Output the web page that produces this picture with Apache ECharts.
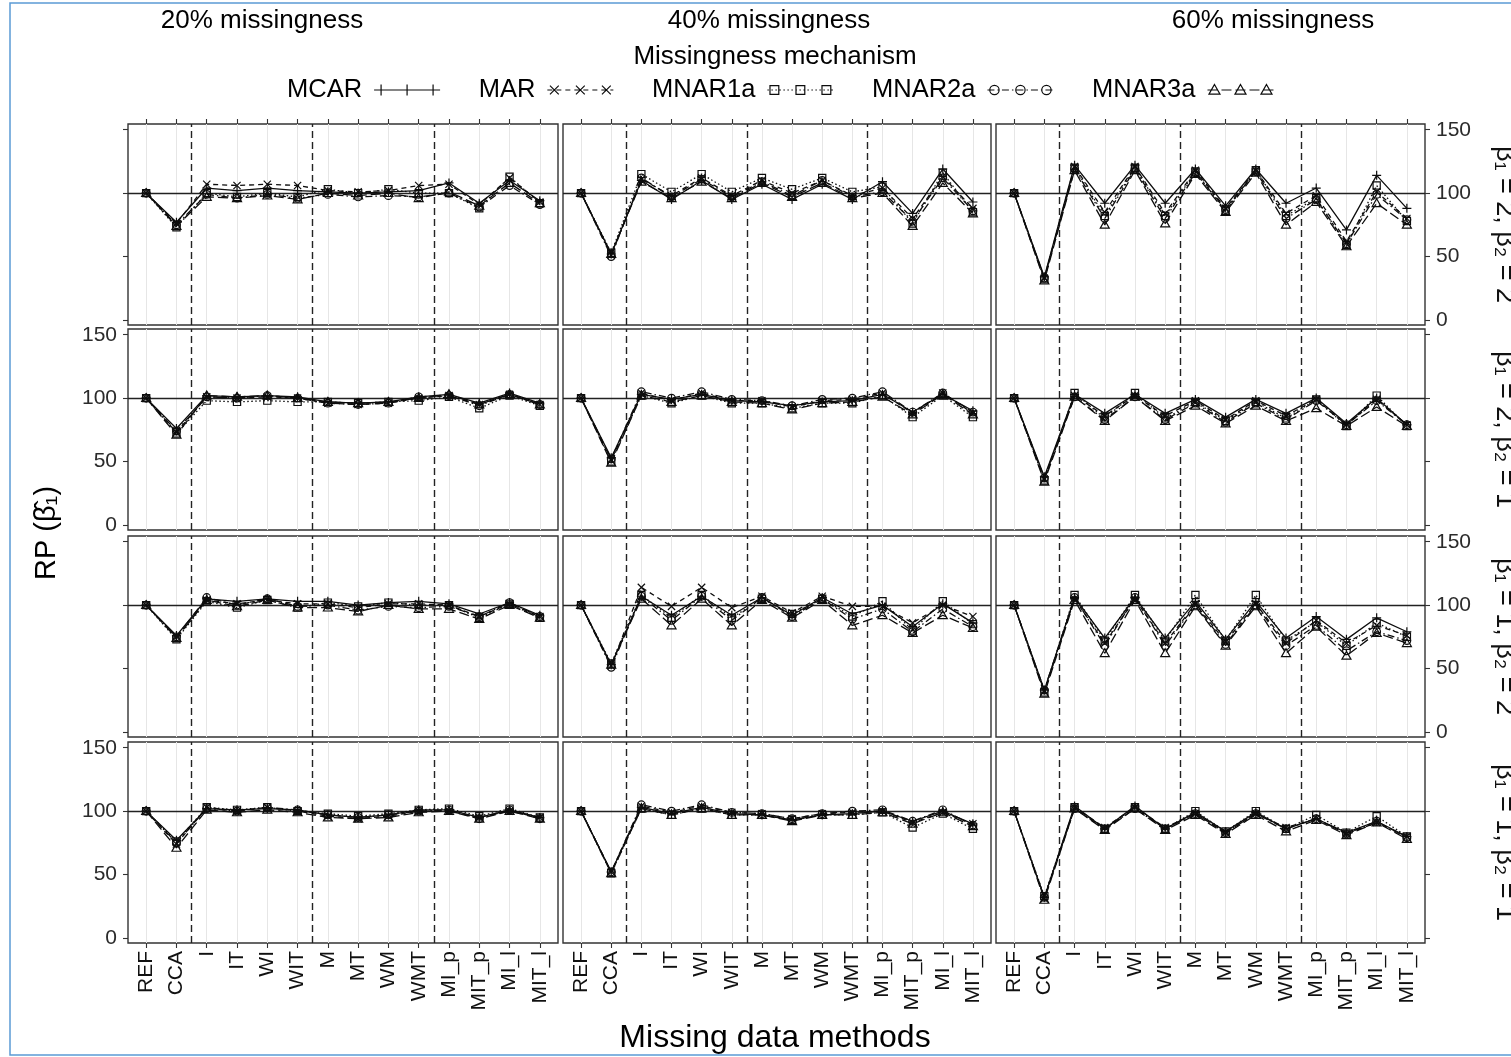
<!DOCTYPE html>
<html><head><meta charset="utf-8">
<script src="https://cdn.jsdelivr.net/npm/echarts@6/dist/echarts.min.js"></script>
<style>html,body{margin:0;padding:0;background:#fff;}#c{width:1511px;height:1057px;}</style>
</head><body><div id="c"></div>
<script>
// ---------------- DATA ----------------
const methods = ['REF','CCA','I','IT','WI','WIT','M','MT','WM','WMT','MI_p','MIT_p','MI_l','MIT_l'];
const mechanisms = ['MCAR','MAR','MNAR1a','MNAR2a','MNAR3a'];
const missingness = ['20% missingness','40% missingness','60% missingness'];
const scenarios = ['β₁ = 2, β₂ = 2','β₁ = 2, β₂ = 1','β₁ = 1, β₂ = 2','β₁ = 1, β₂ = 1'];
const yTicks = [0, 50, 100, 150];
const referenceValue = 100;
const groupBreaks = [1.5, 5.5, 9.5];

// beta1 = 2, beta2 = 2
const p20_b22_MCAR   = [100, 77, 104, 102, 104, 102, 101, 100, 101, 102, 108, 92, 110, 94];
const p20_b22_MAR    = [100, 76, 107, 106, 107, 106, 102, 101, 102, 106, 107, 91, 112, 93];
const p20_b22_MNAR1a = [100, 73, 100, 97, 100, 97, 103, 100, 103, 100, 100, 88, 113, 92];
const p20_b22_MNAR2a = [100, 75, 99, 96, 99, 96, 99, 97, 98, 97, 100, 89, 106, 91];
const p20_b22_MNAR3a = [100, 74, 97, 96, 98, 95, 100, 98, 100, 96, 101, 90, 108, 92];

const p40_b22_MCAR   = [100, 52, 110, 95, 110, 95, 107, 95, 107, 95, 109, 84, 119, 93];
const p40_b22_MAR    = [100, 51, 111, 98, 112, 98, 110, 100, 110, 98, 104, 80, 113, 88];
const p40_b22_MNAR1a = [100, 53, 115, 101, 115, 101, 112, 103, 112, 101, 105, 76, 116, 85];
const p40_b22_MNAR2a = [100, 50, 112, 97, 111, 97, 109, 98, 110, 97, 101, 78, 112, 86];
const p40_b22_MNAR3a = [100, 52, 109, 96, 109, 96, 108, 97, 108, 96, 100, 74, 108, 84];

const p60_b22_MCAR   = [100, 34, 122, 92, 122, 92, 119, 90, 119, 92, 104, 71, 114, 88];
const p60_b22_MAR    = [100, 33, 121, 85, 121, 84, 118, 88, 118, 84, 98, 62, 101, 80];
const p60_b22_MNAR1a = [100, 32, 120, 82, 120, 82, 117, 86, 118, 82, 96, 59, 106, 78];
const p60_b22_MNAR2a = [100, 33, 119, 80, 119, 80, 116, 87, 117, 80, 95, 60, 99, 79];
const p60_b22_MNAR3a = [100, 31, 118, 75, 118, 76, 115, 85, 116, 75, 93, 58, 92, 75];

// beta1 = 2, beta2 = 1
const p20_b21_MCAR   = [100, 76, 102, 101, 102, 101, 97, 96, 97, 101, 103, 96, 104, 96];
const p20_b21_MAR    = [100, 73, 101, 100, 101, 100, 96, 95, 96, 100, 102, 95, 103, 95];
const p20_b21_MNAR1a = [100, 72, 98, 97, 98, 97, 97, 96, 97, 98, 101, 92, 102, 94];
const p20_b21_MNAR2a = [100, 74, 101, 100, 102, 100, 96, 95, 96, 101, 102, 94, 103, 95];
const p20_b21_MNAR3a = [100, 71, 102, 101, 102, 100, 97, 96, 97, 100, 103, 95, 103, 95];

const p40_b21_MCAR   = [100, 53, 103, 99, 103, 98, 97, 94, 97, 98, 103, 89, 103, 90];
const p40_b21_MAR    = [100, 51, 104, 98, 104, 98, 98, 93, 98, 99, 104, 88, 104, 88];
const p40_b21_MNAR1a = [100, 50, 102, 96, 102, 96, 96, 92, 96, 96, 102, 85, 102, 85];
const p40_b21_MNAR2a = [100, 52, 105, 100, 105, 99, 98, 94, 99, 100, 105, 89, 104, 89];
const p40_b21_MNAR3a = [100, 49, 102, 97, 102, 97, 96, 91, 96, 97, 101, 87, 103, 87];

const p60_b21_MCAR   = [100, 38, 103, 88, 103, 88, 99, 85, 99, 88, 100, 80, 100, 79];
const p60_b21_MAR    = [100, 36, 102, 86, 102, 86, 98, 83, 98, 86, 99, 79, 99, 79];
const p60_b21_MNAR1a = [100, 35, 104, 84, 104, 84, 97, 82, 97, 84, 99, 78, 102, 78];
const p60_b21_MNAR2a = [100, 37, 101, 83, 101, 83, 96, 81, 96, 83, 98, 79, 98, 79];
const p60_b21_MNAR3a = [100, 34, 101, 82, 101, 82, 94, 80, 94, 82, 92, 78, 93, 78];

// beta1 = 1, beta2 = 2
const p20_b12_MCAR   = [100, 76, 105, 103, 105, 103, 103, 100, 102, 103, 101, 93, 102, 92];
const p20_b12_MAR    = [100, 75, 104, 101, 104, 101, 101, 98, 101, 101, 100, 91, 101, 91];
const p20_b12_MNAR1a = [100, 73, 103, 98, 104, 98, 102, 99, 102, 100, 100, 90, 101, 90];
const p20_b12_MNAR2a = [100, 75, 106, 100, 105, 99, 100, 96, 99, 98, 99, 91, 102, 91];
const p20_b12_MNAR3a = [100, 74, 104, 99, 104, 98, 98, 95, 100, 97, 97, 89, 100, 90];

const p40_b12_MCAR   = [100, 53, 107, 92, 107, 92, 106, 92, 106, 93, 100, 83, 101, 86];
const p40_b12_MAR    = [100, 52, 114, 99, 114, 98, 107, 94, 107, 99, 99, 86, 100, 91];
const p40_b12_MNAR1a = [100, 54, 108, 90, 108, 90, 105, 93, 105, 91, 103, 80, 103, 85];
const p40_b12_MNAR2a = [100, 51, 107, 88, 107, 88, 106, 91, 105, 89, 97, 79, 97, 83];
const p40_b12_MNAR3a = [100, 53, 105, 84, 105, 84, 104, 90, 104, 84, 92, 78, 92, 82];

const p60_b12_MCAR   = [100, 33, 106, 74, 106, 74, 103, 73, 103, 74, 91, 73, 90, 79];
const p60_b12_MAR    = [100, 32, 105, 70, 105, 70, 101, 71, 101, 70, 88, 70, 84, 76];
const p60_b12_MNAR1a = [100, 31, 108, 72, 108, 72, 108, 72, 108, 72, 87, 68, 86, 75];
const p60_b12_MNAR2a = [100, 33, 106, 68, 106, 68, 100, 69, 100, 68, 84, 64, 79, 72];
const p60_b12_MNAR3a = [100, 30, 104, 62, 104, 62, 99, 68, 99, 62, 83, 60, 78, 70];

// beta1 = 1, beta2 = 1
const p20_b11_MCAR   = [100, 77, 102, 101, 102, 101, 97, 95, 97, 101, 101, 95, 101, 95];
const p20_b11_MAR    = [100, 74, 103, 100, 103, 100, 96, 94, 96, 100, 100, 95, 100, 95];
const p20_b11_MNAR1a = [100, 76, 103, 101, 103, 100, 98, 96, 98, 101, 102, 96, 102, 95];
const p20_b11_MNAR2a = [100, 75, 102, 100, 103, 101, 97, 95, 97, 100, 101, 94, 101, 94];
const p20_b11_MNAR3a = [100, 71, 101, 99, 101, 99, 95, 94, 95, 99, 100, 94, 100, 94];

const p40_b11_MCAR   = [100, 52, 103, 98, 103, 98, 97, 93, 97, 98, 100, 92, 100, 90];
const p40_b11_MAR    = [100, 52, 104, 99, 104, 99, 98, 94, 98, 99, 100, 91, 99, 90];
const p40_b11_MNAR1a = [100, 51, 102, 97, 102, 97, 97, 93, 97, 97, 99, 87, 98, 86];
const p40_b11_MNAR2a = [100, 52, 105, 100, 105, 99, 98, 94, 98, 100, 101, 92, 101, 89];
const p40_b11_MNAR3a = [100, 51, 102, 97, 102, 97, 97, 92, 97, 97, 99, 90, 99, 88];

const p60_b11_MCAR   = [100, 32, 104, 86, 104, 86, 99, 84, 99, 86, 94, 83, 92, 80];
const p60_b11_MAR    = [100, 31, 103, 87, 103, 87, 98, 83, 98, 87, 94, 82, 91, 80];
const p60_b11_MNAR1a = [100, 33, 103, 86, 103, 86, 100, 84, 100, 86, 97, 83, 96, 80];
const p60_b11_MNAR2a = [100, 32, 102, 86, 102, 86, 98, 83, 98, 86, 94, 82, 92, 79];
const p60_b11_MNAR3a = [100, 30, 102, 85, 102, 85, 97, 82, 97, 84, 93, 81, 91, 78];

// rows = scenarios, columns = missingness; each cell lists mechanisms in order
const panels = [
  [[p20_b22_MCAR,p20_b22_MAR,p20_b22_MNAR1a,p20_b22_MNAR2a,p20_b22_MNAR3a],
   [p40_b22_MCAR,p40_b22_MAR,p40_b22_MNAR1a,p40_b22_MNAR2a,p40_b22_MNAR3a],
   [p60_b22_MCAR,p60_b22_MAR,p60_b22_MNAR1a,p60_b22_MNAR2a,p60_b22_MNAR3a]],
  [[p20_b21_MCAR,p20_b21_MAR,p20_b21_MNAR1a,p20_b21_MNAR2a,p20_b21_MNAR3a],
   [p40_b21_MCAR,p40_b21_MAR,p40_b21_MNAR1a,p40_b21_MNAR2a,p40_b21_MNAR3a],
   [p60_b21_MCAR,p60_b21_MAR,p60_b21_MNAR1a,p60_b21_MNAR2a,p60_b21_MNAR3a]],
  [[p20_b12_MCAR,p20_b12_MAR,p20_b12_MNAR1a,p20_b12_MNAR2a,p20_b12_MNAR3a],
   [p40_b12_MCAR,p40_b12_MAR,p40_b12_MNAR1a,p40_b12_MNAR2a,p40_b12_MNAR3a],
   [p60_b12_MCAR,p60_b12_MAR,p60_b12_MNAR1a,p60_b12_MNAR2a,p60_b12_MNAR3a]],
  [[p20_b11_MCAR,p20_b11_MAR,p20_b11_MNAR1a,p20_b11_MNAR2a,p20_b11_MNAR3a],
   [p40_b11_MCAR,p40_b11_MAR,p40_b11_MNAR1a,p40_b11_MNAR2a,p40_b11_MNAR3a],
   [p60_b11_MCAR,p60_b11_MAR,p60_b11_MNAR1a,p60_b11_MNAR2a,p60_b11_MNAR3a]]
];

// ---------------- STYLE / LAYOUT ----------------
const FONT = 'Liberation Sans, Arial, sans-serif';
const INK = '#0d0d0d';
const colLeft = [128, 563, 996];
const colWidth = [430, 428, 429];
const rowTop = [124, 329, 536, 742];
const rowHeight = 201;
const X_MIN = -0.6, X_MAX = 13.6;
const Y_MIN = -4, Y_MAX = 154.5;

const shapeOf = ['plus','cross','square','circle','triangle'];
const dashOf = [[], [5,4], [1.5,2.5], [7,3,1.5,3], [10,4]];

function marker(shape, c, y, s) {
  const f = v => v.toFixed(2);
  if (shape === 'plus') return `M${f(c)},${f(y-s)}L${f(c)},${f(y+s)}M${f(c-s)},${f(y)}L${f(c+s)},${f(y)}`;
  if (shape === 'cross') { const k = s*0.8; return `M${f(c-k)},${f(y-k)}L${f(c+k)},${f(y+k)}M${f(c+k)},${f(y-k)}L${f(c-k)},${f(y+k)}`; }
  if (shape === 'square') { const k = s*0.8; return `M${f(c-k)},${f(y-k)}L${f(c+k)},${f(y-k)}L${f(c+k)},${f(y+k)}L${f(c-k)},${f(y+k)}Z`; }
  if (shape === 'circle') { const k = s*0.85; return `M${f(c-k)},${f(y)}A${f(k)},${f(k)},0,1,1,${f(c+k)},${f(y)}A${f(k)},${f(k)},0,1,1,${f(c-k)},${f(y)}Z`; }
  return `M${f(c)},${f(y-s)}L${f(c+s)},${f(y+s*0.75)}L${f(c-s)},${f(y+s*0.75)}Z`;
}
function dashLine(pattern, x0, x1, y) {
  if (!pattern.length) return `M${x0},${y}L${x1},${y}`;
  let out = '', x = x0, i = 0;
  while (x < x1) {
    const len = pattern[i % pattern.length];
    const xe = Math.min(x + len, x1);
    if (i % 2 === 0) out += `M${x.toFixed(2)},${y}L${xe.toFixed(2)},${y}`;
    x = xe; i++;
  }
  return out;
}
const symbolPath = shapeOf.map(s => 'path://M0,0M10,10' + marker(s, 5, 5, 5));
const LW = 66, LH = 14;
const legendIcon = shapeOf.map((s, k) =>
  'path://M0,0M' + LW + ',' + LH + dashLine(dashOf[k], 0, LW, LH/2) +
  marker(s, 7, LH/2, 5.5) + marker(s, LW/2, LH/2, 5.5) + marker(s, LW-7, LH/2, 5.5));

const idx = methods.map((m, i) => i);
const grids = [], xAxes = [], yAxes = [], series = [];
for (let r = 0; r < 4; r++) {
  for (let c = 0; c < 3; c++) {
    const g = r*3 + c;
    grids.push({left: colLeft[c], top: rowTop[r], width: colWidth[c], height: rowHeight,
      show: true, borderColor: '#333', borderWidth: 1.4, backgroundColor: '#fff',
      containLabel: false, outerBoundsMode: 'none'});
    xAxes.push({type: 'value', gridIndex: g, position: 'bottom', min: X_MIN, max: X_MAX,
      axisLine: {show: false, onZero: false}, splitLine: {show: false},
      axisTick: {show: r === 3, customValues: idx, length: 5, lineStyle: {color: '#333', width: 1.1}},
      axisLabel: {show: r === 3, customValues: idx, rotate: 90, margin: 8, fontSize: 21,
        fontFamily: FONT, color: '#111', formatter: v => methods[Math.round(v)]}});
    const leftLabels = (c === 0 && r % 2 === 1);
    const rightLabels = (c === 2 && r % 2 === 0);
    yAxes.push({type: 'value', gridIndex: g, position: 'left', min: Y_MIN, max: Y_MAX,
      axisLine: {show: false, onZero: false}, splitLine: {show: false},
      axisTick: {show: c === 0, customValues: yTicks, length: 5, lineStyle: {color: '#333', width: 1.1}},
      axisLabel: {show: leftLabels, customValues: yTicks, margin: 11, fontSize: 21, fontFamily: FONT, color: '#2b2b2b'}});
    yAxes.push({type: 'value', gridIndex: g, position: 'right', min: Y_MIN, max: Y_MAX,
      axisLine: {show: false, onZero: false}, splitLine: {show: false},
      axisTick: {show: c === 2, customValues: yTicks, length: 5, lineStyle: {color: '#333', width: 1.1}},
      axisLabel: {show: rightLabels, customValues: yTicks, margin: 11, fontSize: 21, fontFamily: FONT, color: '#2b2b2b'}});
    // guides
    const guides = idx.map(i => ({xAxis: i, lineStyle: {color: '#e6e6e6', width: 1, type: 'solid'}}))
      .concat(groupBreaks.map(b => ({xAxis: b, lineStyle: {color: '#222', width: 1.4, type: [7, 4]}})))
      .concat([{yAxis: referenceValue, lineStyle: {color: '#222', width: 1.3, type: 'solid'}}]);
    series.push({type: 'line', xAxisIndex: g, yAxisIndex: 2*g, data: [], silent: true, animation: false,
      markLine: {silent: true, z: 1, animation: false, symbol: ['none', 'none'], label: {show: false},
        emphasis: {disabled: true}, data: guides}});
    mechanisms.forEach((m, k) => {
      series.push({type: 'line', name: m, xAxisIndex: g, yAxisIndex: 2*g, z: 3,
        data: panels[r][c][k].map((v, i) => [i, v]),
        symbol: symbolPath[k], symbolSize: 9, animation: false, silent: true,
        emphasis: {disabled: true},
        lineStyle: {color: INK, width: 1.3, type: dashOf[k].length ? dashOf[k] : 'solid'},
        itemStyle: {color: 'rgba(0,0,0,0)', borderColor: INK, borderWidth: 1.2}});
    });
  }
}
// top ticks for the first row
for (let c = 0; c < 3; c++) {
  xAxes.push({type: 'value', gridIndex: c, position: 'top', min: X_MIN, max: X_MAX,
    axisLine: {show: false, onZero: false}, splitLine: {show: false},
    axisTick: {show: true, customValues: idx, length: 5, lineStyle: {color: '#333', width: 1.1}},
    axisLabel: {show: false}});
}

const headerX = [262, 769, 1273];
const stripY = rowTop.map(t => t + rowHeight/2);
const graphics = [
  {type: 'rect', silent: true, shape: {x: 10, y: 3, width: 1530, height: 1052},
   style: {fill: 'none', stroke: '#5b9bd5', lineWidth: 1.5}},
  ...missingness.map((t, c) => ({type: 'text', x: headerX[c], y: 21, silent: true,
    style: {text: t, fontSize: 26, fontFamily: FONT, fill: '#000', align: 'center', verticalAlign: 'middle'}})),
  {type: 'text', x: 775, y: 57, silent: true,
    style: {text: 'Missingness mechanism', fontSize: 26, fontFamily: FONT, fill: '#000', align: 'center', verticalAlign: 'middle'}},
  {type: 'text', x: 775, y: 1038, silent: true,
    style: {text: 'Missing data methods', fontSize: 32, fontFamily: FONT, fill: '#000', align: 'center', verticalAlign: 'middle'}},
  {type: 'text', x: 47, y: 533, rotation: Math.PI/2, silent: true,
    style: {text: 'RP (β\u0302₁)', fontSize: 29, fontFamily: FONT, fill: '#000', align: 'center', verticalAlign: 'middle'}},
  ...scenarios.map((t, r) => ({type: 'text', x: 1504, y: stripY[r], rotation: -Math.PI/2, silent: true,
    style: {text: t, fontSize: 27, fontFamily: FONT, fill: '#111', align: 'center', verticalAlign: 'middle'}}))
];

const chart = echarts.init(document.getElementById('c'), null, {renderer: 'canvas'});
chart.setOption({
  animation: false,
  backgroundColor: '#fff',
  textStyle: {fontFamily: FONT},
  grid: grids, xAxis: xAxes, yAxis: yAxes, series: series,
  legend: {show: true, left: 287, top: 77, padding: 0, orient: 'horizontal', align: 'right',
    itemGap: 38, itemWidth: LW, itemHeight: LH, selectedMode: false, symbolKeepAspect: false,
    itemStyle: {color: 'rgba(0,0,0,0)', borderColor: INK, borderWidth: 1.2},
    textStyle: {fontSize: 25.5, fontFamily: FONT, color: '#000', padding: [0, 7, 0, 0]},
    data: mechanisms.map((m, k) => ({name: m, icon: legendIcon[k]}))},
  graphic: graphics
});
</script></body></html>
